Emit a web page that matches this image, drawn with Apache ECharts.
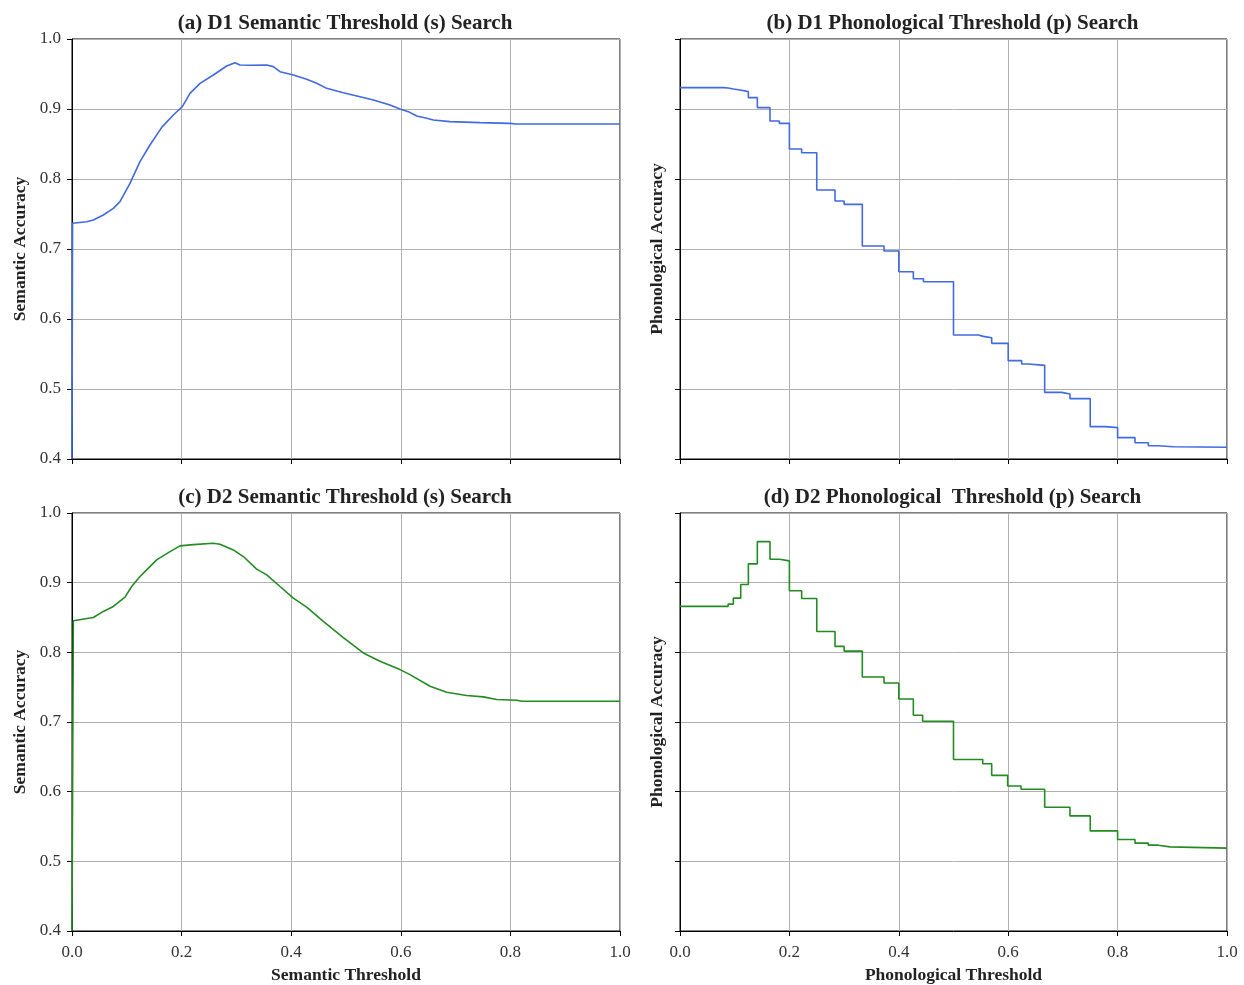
<!DOCTYPE html>
<html>
<head>
<meta charset="utf-8">
<script src="https://cdn.jsdelivr.net/npm/echarts@6/dist/echarts.min.js"></script>
<style>
html,body{margin:0;padding:0;background:#fff;}
#chart{width:1244px;height:985px;}
</style>
</head>
<body>
<div id="chart"></div>
<script>
// ---- Data ----
const titles = [
  "(a) D1 Semantic Threshold (s) Search",
  "(b) D1 Phonological Threshold (p) Search",
  "(c) D2 Semantic Threshold (s) Search",
  "(d) D2 Phonological  Threshold (p) Search"
];
const xTickLabels = ["0.0","0.2","0.4","0.6","0.8","1.0"];
const yTickLabels = ["0.4","0.5","0.6","0.7","0.8","0.9","1.0"];

// (a) D1 semantic threshold search
const d1SemX = [0, 0.001, 0.0268, 0.039, 0.0572, 0.0754, 0.0876, 0.1058, 0.124, 0.1423, 0.1637, 0.1849, 0.2013, 0.2153, 0.2336, 0.2579, 0.2822, 0.2974, 0.3066, 0.3248, 0.3553, 0.3674, 0.3796, 0.4039, 0.4282, 0.4465, 0.4647, 0.4951, 0.5255, 0.5499, 0.5803, 0.5985, 0.6137, 0.629, 0.6472, 0.6594, 0.6898, 0.7445, 0.7993, 0.81, 1.0];
const d1SemY = [0.40, 0.7367, 0.739, 0.7414, 0.7486, 0.758, 0.7676, 0.7938, 0.8248, 0.8486, 0.8738, 0.8914, 0.9033, 0.9224, 0.9367, 0.9486, 0.9614, 0.9661, 0.9629, 0.9625, 0.9629, 0.9605, 0.9533, 0.9486, 0.9424, 0.9367, 0.9295, 0.9233, 0.9176, 0.9129, 0.9057, 0.9000, 0.8962, 0.8900, 0.8867, 0.8843, 0.8819, 0.8805, 0.8795, 0.8786, 0.8786];

// (b) D1 phonological threshold search (step)
const d1PhonX = [0, 0.079, 0.088, 0.0975, 0.11, 0.125, 0.1414, 0.1645, 0.1816, 0.2, 0.2224, 0.25, 0.2834, 0.3, 0.3333, 0.373, 0.4, 0.4266, 0.445, 0.5, 0.5454, 0.5545, 0.5698, 0.6, 0.6246, 0.6368, 0.6667, 0.6977, 0.7129, 0.75, 0.777, 0.8, 0.8318, 0.8562, 0.8745, 0.902, 1.0];
const d1PhonY = [0.9305, 0.9300, 0.9286, 0.9271, 0.9248, 0.9162, 0.9019, 0.8829, 0.8795, 0.8429, 0.8376, 0.7843, 0.7686, 0.7638, 0.7043, 0.6971, 0.6676, 0.6576, 0.6533, 0.5771, 0.5752, 0.5733, 0.5652, 0.5405, 0.5357, 0.5338, 0.4952, 0.4929, 0.4862, 0.4462, 0.4448, 0.4305, 0.4233, 0.4190, 0.4176, 0.4167, 0.4167];

// (c) D2 semantic threshold search
const d2SemX = [0, 0.0024, 0.0389, 0.0572, 0.0754, 0.0967, 0.1089, 0.1241, 0.1363, 0.1545, 0.1788, 0.1971, 0.2214, 0.2579, 0.2701, 0.2944, 0.3126, 0.337, 0.3553, 0.3796, 0.4039, 0.4282, 0.4586, 0.4951, 0.5316, 0.562, 0.5985, 0.6168, 0.6533, 0.6837, 0.7202, 0.7506, 0.775, 0.8114, 0.8206, 1.0];
const d2SemY = [0.40, 0.8454, 0.8500, 0.8587, 0.8659, 0.8793, 0.8945, 0.9088, 0.9184, 0.9327, 0.9446, 0.9528, 0.9546, 0.9566, 0.9552, 0.9470, 0.9375, 0.9194, 0.9112, 0.8945, 0.8779, 0.8649, 0.8443, 0.8210, 0.7991, 0.7871, 0.7752, 0.7680, 0.7513, 0.7427, 0.7380, 0.7361, 0.7322, 0.7313, 0.7298, 0.7298];

// (d) D2 phonological threshold search (step)
const d2PhonX = [0, 0.073, 0.088, 0.0975, 0.111, 0.125, 0.1414, 0.1645, 0.1816, 0.2, 0.2224, 0.25, 0.2834, 0.3, 0.3333, 0.373, 0.4, 0.4266, 0.4436, 0.5, 0.5534, 0.5698, 0.599, 0.6234, 0.6667, 0.7129, 0.75, 0.8, 0.8318, 0.8562, 0.8745, 0.8958, 1.0];
const d2PhonY = [0.8659, 0.8660, 0.8692, 0.8778, 0.8974, 0.9270, 0.9589, 0.9336, 0.9313, 0.8883, 0.8773, 0.8300, 0.8085, 0.8018, 0.7646, 0.7560, 0.7331, 0.7097, 0.7011, 0.6462, 0.6401, 0.6234, 0.6082, 0.6034, 0.5776, 0.5652, 0.5437, 0.5313, 0.5261, 0.5232, 0.5208, 0.5189, 0.5189];

const yNames = ["Semantic Accuracy","Phonological Accuracy","Semantic Accuracy","Phonological Accuracy"];
const xNames = ["","","Semantic Threshold","Phonological Threshold"];

// ---- Build ----
const BLUE = '#4169E1', GREEN = '#228B22';
const FONT = '"Liberation Serif","DejaVu Serif",serif';
const zip = (xs, ys) => xs.map((x, i) => [x, ys[i]]);

const grids = [
  {left: 72, top: 39, width: 548, height: 420},
  {left: 680, top: 39, width: 547, height: 420},
  {left: 72, top: 513, width: 548, height: 419},
  {left: 680, top: 513, width: 547, height: 419}
];

const chart = echarts.init(document.getElementById('chart'), null, {renderer: 'canvas'});
const option = {
  backgroundColor: '#fff',
  animation: false,
  title: grids.map((g, i) => ({
    text: titles[i],
    left: g.left + g.width / 2 - 6,
    top: g.top - 31,
    textAlign: 'center',
    textStyle: {fontFamily: FONT, fontWeight: 'bold', fontSize: 21, color: '#222'}
  })),
  grid: grids.map(g => Object.assign({show: true, borderColor: '#000', borderWidth: 1, backgroundColor: 'transparent'}, g)),
  xAxis: grids.map((g, i) => ({
    type: 'value', gridIndex: i, min: 0, max: 1, interval: 0.2,
    name: xNames[i], nameLocation: 'middle', nameGap: 35,
    nameTextStyle: {fontFamily: FONT, fontWeight: 'bold', fontSize: 17.5, color: '#222'},
    axisLine: {show: true, onZero: false, lineStyle: {color: '#000', width: 1}},
    axisTick: {show: true, inside: false, length: 5, lineStyle: {color: '#000'}},
    axisLabel: {show: i >= 2, margin: 13, fontFamily: FONT, fontSize: 17, color: '#333',
      formatter: v => xTickLabels[Math.round(v / 0.2)]},
    splitLine: {show: true, lineStyle: {color: '#b0b0b0', width: 1}}
  })),
  yAxis: grids.map((g, i) => ({
    type: 'value', gridIndex: i, min: 0.4, max: 1.0, interval: 0.1,
    name: yNames[i], nameLocation: 'middle', nameGap: (i % 2 === 0) ? 42.5 : 14,
    nameTextStyle: {fontFamily: FONT, fontWeight: 'bold', fontSize: 17.5, color: '#222'},
    axisLine: {show: true, onZero: false, lineStyle: {color: '#000', width: 1}},
    axisTick: {show: true, inside: false, length: 5, lineStyle: {color: '#000'}},
    axisLabel: {show: i % 2 === 0, margin: 11, fontFamily: FONT, fontSize: 17, color: '#333',
      formatter: v => yTickLabels[Math.round((v - 0.4) / 0.1)]},
    splitLine: {show: true, lineStyle: {color: '#b0b0b0', width: 1}}
  })),
  series: [
    {type: 'line', xAxisIndex: 0, yAxisIndex: 0, data: zip(d1SemX, d1SemY), showSymbol: false, lineStyle: {color: BLUE, width: 1.6}, itemStyle: {color: BLUE}},
    {type: 'line', xAxisIndex: 1, yAxisIndex: 1, data: zip(d1PhonX, d1PhonY), step: 'end', showSymbol: false, lineStyle: {color: BLUE, width: 1.6}, itemStyle: {color: BLUE}},
    {type: 'line', xAxisIndex: 2, yAxisIndex: 2, data: zip(d2SemX, d2SemY), showSymbol: false, lineStyle: {color: GREEN, width: 1.6}, itemStyle: {color: GREEN}},
    {type: 'line', xAxisIndex: 3, yAxisIndex: 3, data: zip(d2PhonX, d2PhonY), step: 'end', showSymbol: false, lineStyle: {color: GREEN, width: 1.6}, itemStyle: {color: GREEN}}
  ]
};
chart.setOption(option);
</script>
</body>
</html>
